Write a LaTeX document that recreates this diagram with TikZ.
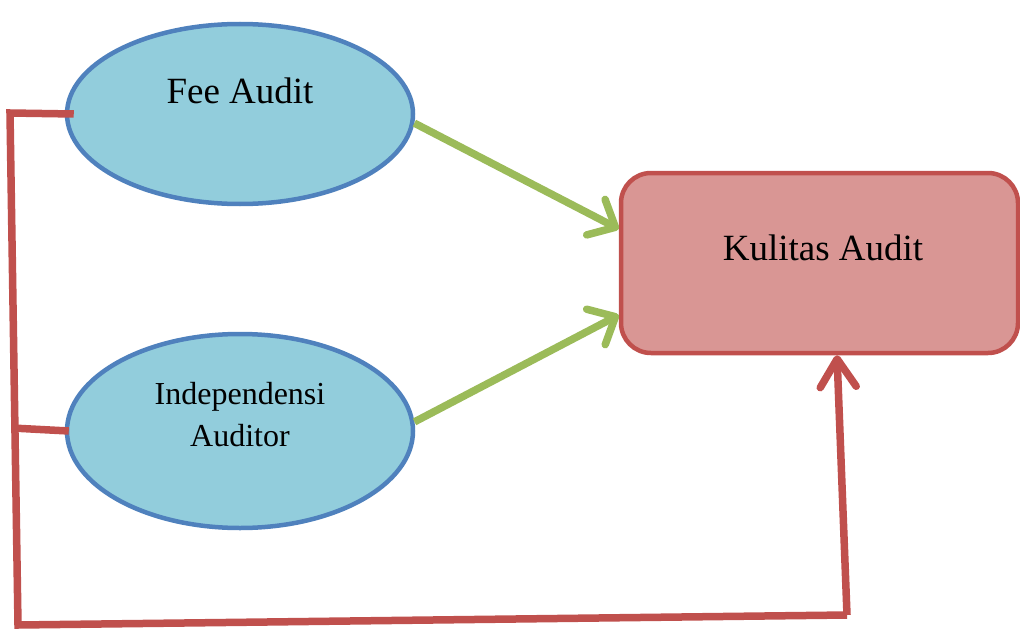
\documentclass[tikz,border=0pt]{standalone}
\usepackage{fontspec}
\setmainfont{Liberation Serif}
\usetikzlibrary{arrows.meta,shapes.geometric}
\definecolor{ellfill}{RGB}{146,205,220}
\definecolor{ellline}{RGB}{79,129,189}
\definecolor{boxfill}{RGB}{217,150,148}
\definecolor{redline}{RGB}{192,80,77}
\definecolor{greenline}{RGB}{155,187,89}
\tikzset{
  ell/.style={ellipse, draw=ellline, fill=ellfill, line width=4.5pt, minimum width=346pt, minimum height=180pt, inner sep=0pt},
  rbox/.style={rectangle, rounded corners=30pt, draw=redline, fill=boxfill, line width=4.5pt, minimum width=397pt, minimum height=180pt, inner sep=0pt},
  lbl/.style={inner sep=0pt, text=black},
  garrow/.style={draw=greenline, line width=7.5pt, -{Straight Barb[length=22pt,width=40pt,round]}},
  rline/.style={draw=redline, line width=7.5pt},
  rarrow/.style={rline, -{Straight Barb[length=28pt,width=36pt,round]}}
}
\begin{document}
\begin{tikzpicture}[x=1pt,y=-1pt]
\useasboundingbox (0,0) rectangle (1020,634);
\node[ell] (fee) at (240,114) {};
\node[lbl, anchor=base, font=\fontsize{37}{44}\selectfont] (feet) at (240,103) {Fee Audit};
\node[ell, minimum height=194pt] (ind) at (240,431) {};
\node[lbl, align=center, font=\fontsize{32}{42}\selectfont] (indt) at (240,415) {Independensi\\Auditor};
\node[rbox] (kual) at (819.5,263) {};
\node[lbl, anchor=base, font=\fontsize{37}{44}\selectfont] (kualt) at (823,260) {Kulitas Audit};
\coordinate (c1) at (10,113);
\coordinate (c2) at (18,625);
\coordinate (c3) at (847,615);
\coordinate (c4) at (12,428);
\draw[garrow] (fee.-3) -- ([yshift=34pt]kual.west);
\draw[garrow] (ind.3) -- ([yshift=-52pt]kual.west);
\draw[rline] ([xshift=9pt]fee.west) -- (c1) -- (c2) -- (c3);
\draw[rarrow] (c3) -- ([xshift=17.5pt]kual.south);
\draw[rline] ([xshift=4pt]ind.west) -- (c4);
\end{tikzpicture}
\end{document}
